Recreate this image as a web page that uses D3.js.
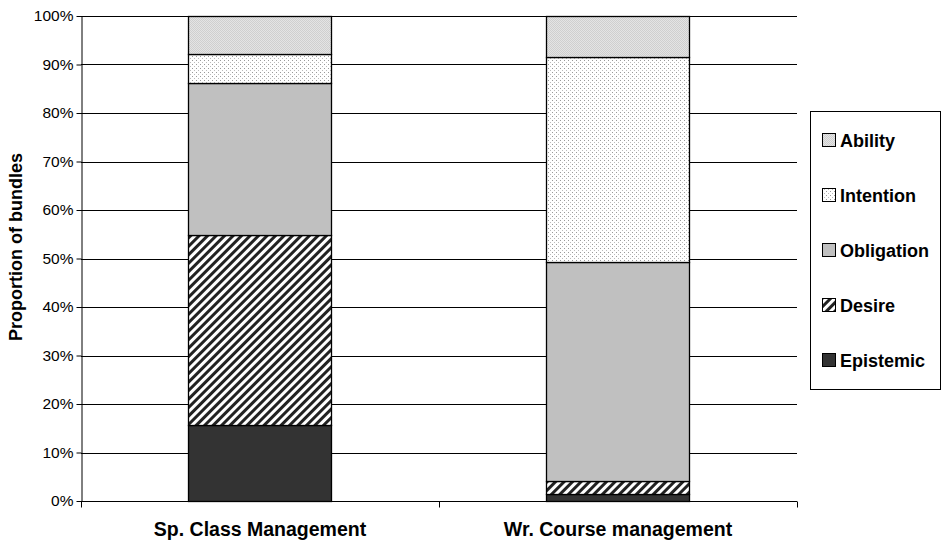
<!DOCTYPE html>
<html>
<head>
<meta charset="utf-8">
<script src="https://cdn.jsdelivr.net/npm/d3@7"></script>
<style>
  html, body { margin: 0; padding: 0; background: #fff; }
  svg { display: block; font-family: "Liberation Sans", Arial, sans-serif; }
</style>
</head>
<body>
<svg id="chart" width="943" height="541"></svg>
<script>
// Categories and modality series (percent of bundles)
const categories = ["Sp. Class Management", "Wr. Course management"];
const seriesNames = ["Epistemic", "Desire", "Obligation", "Intention", "Ability"];
const epistemic  = [15.7, 1.4];
const desire     = [39.1, 2.7];
const obligation = [31.4, 45.2];
const intention  = [6.0, 42.2];
const ability    = [7.8, 8.5];
const yTicks = [0, 10, 20, 30, 40, 50, 60, 70, 80, 90, 100];
const legendOrder = ["Ability", "Intention", "Obligation", "Desire", "Epistemic"];

const seriesValues = { Epistemic: epistemic, Desire: desire, Obligation: obligation, Intention: intention, Ability: ability };
const rows = categories.map((c, i) => {
  const r = { category: c };
  seriesNames.forEach(s => r[s] = seriesValues[s][i]);
  return r;
});

const svg = d3.select("#chart");
const margin = { left: 81, right: 146, top: 16, bottom: 40 };
const W = 943, H = 541;

const x = d3.scaleBand().domain(categories).range([margin.left, W - margin.right]).paddingInner(0.6).paddingOuter(0.3);
const y = d3.scaleLinear().domain([0, 100]).range([H - margin.bottom, margin.top]);

// Fill patterns
const defs = svg.append("defs");
// Ability: fine light-gray checker
const pAb = defs.append("pattern").attr("id", "pAbility").attr("patternUnits", "userSpaceOnUse").attr("width", 2).attr("height", 2);
pAb.append("rect").attr("width", 2).attr("height", 2).attr("fill", "#e4e4e4");
pAb.append("rect").attr("width", 1).attr("height", 1).attr("fill", "#cfcfcf");
pAb.append("rect").attr("x", 1).attr("y", 1).attr("width", 1).attr("height", 1).attr("fill", "#cfcfcf");
// Intention: white with sparse gray dots
const pIn = defs.append("pattern").attr("id", "pIntention").attr("patternUnits", "userSpaceOnUse").attr("width", 4).attr("height", 4);
pIn.append("rect").attr("width", 4).attr("height", 4).attr("fill", "#fff");
pIn.append("rect").attr("width", 1).attr("height", 1).attr("fill", "#999");
pIn.append("rect").attr("x", 2).attr("y", 2).attr("width", 1).attr("height", 1).attr("fill", "#bbb");
// Desire: diagonal black stripes
const pDe = defs.append("pattern").attr("id", "pDesire").attr("patternUnits", "userSpaceOnUse")
  .attr("width", 6).attr("height", 6).attr("patternTransform", "rotate(45)");
pDe.append("rect").attr("width", 6).attr("height", 6).attr("fill", "#fff");
pDe.append("rect").attr("width", 3).attr("height", 6).attr("fill", "#222");

const fills = {
  Ability: "url(#pAbility)",
  Intention: "url(#pIntention)",
  Obligation: "#c0c0c0",
  Desire: "url(#pDesire)",
  Epistemic: "#333333"
};

// Gridlines
svg.append("g").selectAll("line").data(yTicks.slice(1)).join("line")
  .attr("x1", margin.left).attr("x2", W - margin.right)
  .attr("y1", d => Math.round(y(d)) + 0.5).attr("y2", d => Math.round(y(d)) + 0.5)
  .attr("stroke", "#000").attr("stroke-width", 1);

// Stacked bars
const stack = d3.stack().keys(seriesNames)(rows);
svg.append("g").selectAll("g").data(stack).join("g")
  .attr("fill", d => fills[d.key])
  .selectAll("rect").data(d => d).join("rect")
  .attr("x", d => Math.round(x(d.data.category)) + 0.5)
  .attr("y", d => Math.round(y(d[1])) + 0.5)
  .attr("width", Math.round(x.bandwidth()))
  .attr("height", d => Math.round(y(d[0])) - Math.round(y(d[1])))
  .attr("stroke", "#000").attr("stroke-width", 1.3);

// Y axis
const yAxis = svg.append("g").attr("transform", `translate(${margin.left + 0.5},0)`)
  .call(d3.axisLeft(y).tickValues(yTicks).tickFormat(d => d + "%").tickSize(5).tickSizeOuter(0));
yAxis.select(".domain").attr("stroke", "#000");
yAxis.selectAll("text").attr("font-size", 15.5).attr("fill", "#000").attr("font-family", "Liberation Sans, Arial, sans-serif");

// X axis baseline with category separators
const xb = Math.round(y(0)) + 0.5;
svg.append("line").attr("x1", margin.left).attr("x2", W - margin.right).attr("y1", xb).attr("y2", xb).attr("stroke", "#000");
const seps = [margin.left, (x(categories[0]) + x(categories[1]) + x.bandwidth()) / 2, W - margin.right];
svg.append("g").selectAll("line").data(seps).join("line")
  .attr("x1", d => Math.round(d) + 0.5).attr("x2", d => Math.round(d) + 0.5)
  .attr("y1", xb).attr("y2", xb + 6).attr("stroke", "#000");

svg.append("g").selectAll("text").data(categories).join("text")
  .attr("x", d => x(d) + x.bandwidth() / 2).attr("y", 536)
  .attr("text-anchor", "middle").attr("font-size", 19.5).attr("font-weight", "bold").text(d => d);

// Y axis title
svg.append("text").attr("transform", "translate(22,247) rotate(-90)")
  .attr("text-anchor", "middle").attr("font-size", 18).attr("font-weight", "bold").text("Proportion of bundles");

// Legend
const lg = svg.append("g");
lg.append("rect").attr("x", 810.5).attr("y", 111.5).attr("width", 130).attr("height", 278)
  .attr("fill", "#fff").attr("stroke", "#000").attr("stroke-width", 1);
const items = lg.selectAll("g").data(legendOrder).join("g")
  .attr("transform", (d, i) => `translate(822,${140 + i * 55})`);
items.append("rect").attr("x", 0.5).attr("y", -6.5).attr("width", 13).attr("height", 13)
  .attr("fill", d => fills[d]).attr("stroke", "#000").attr("stroke-width", 1);
items.append("text").attr("x", 18).attr("y", 6.5).attr("font-size", 18).attr("font-weight", "bold").text(d => d);
</script>
</body>
</html>
